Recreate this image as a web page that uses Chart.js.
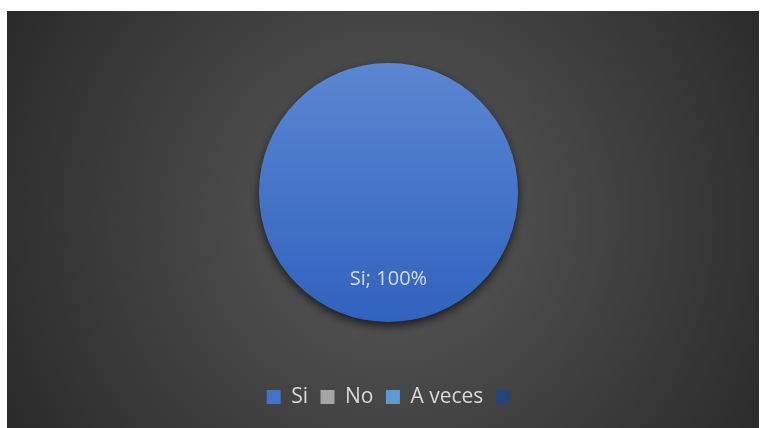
<!DOCTYPE html>
<html>
<head>
<meta charset="utf-8">
<script src="https://cdn.jsdelivr.net/npm/chart.js@4"></script>
<style>
  html, body { margin: 0; padding: 0; background: #ffffff; width: 763px; height: 428px; overflow: hidden; }
  #wrap { position: absolute; left: 7px; top: 11px; width: 752px; height: 417px; }
</style>
</head>
<body>
<div id="wrap"><canvas id="c" width="752" height="417"></canvas></div>
<script>
const categories = ['Si', 'No', 'A veces', ''];
const values = [100, 0, 0, 0];
const sliceColors = ['#4472C4', '#A5A5A5', '#5B9BD5', '#264478'];

const FONT = "'Open Sans', 'Noto Sans', sans-serif";
const PIE_R = 129.5;
const LEGEND_SHIFT = 5;

const bgPlugin = {
  id: 'bg',
  beforeDraw(chart) {
    const {ctx, width, height} = chart;
    const cx = width * 0.51, cy = height * 0.5;
    const g = ctx.createRadialGradient(cx, cy, 0, cx, cy, Math.hypot(width, height) * 0.55);
    g.addColorStop(0, '#5a5a5a');
    g.addColorStop(1, '#262626');
    ctx.save();
    ctx.fillStyle = g;
    ctx.fillRect(0, 0, width, height);
    ctx.restore();
  }
};

const legendShiftPlugin = {
  id: 'legendShift',
  afterLayout(chart) {
    if (chart.legend) {
      chart.legend.left += LEGEND_SHIFT;
      chart.legend.right += LEGEND_SHIFT;
    }
  }
};

const shadowPlugin = {
  id: 'shadow',
  beforeDatasetsDraw(chart) {
    const ctx = chart.ctx;
    ctx.save();
    ctx.shadowColor = 'rgba(0,0,0,0.65)';
    ctx.shadowBlur = 10;
    ctx.shadowOffsetY = 4;
  },
  afterDatasetsDraw(chart) {
    chart.ctx.restore();
  }
};

const labelPlugin = {
  id: 'sliceLabels',
  afterDatasetsDraw(chart) {
    const ctx = chart.ctx;
    const meta = chart.getDatasetMeta(0);
    const data = chart.data.datasets[0].data;
    const total = data.reduce((a, b) => a + b, 0);
    meta.data.forEach((arc, i) => {
      const v = data[i];
      if (!v) return;
      const p = arc.getProps(['x', 'y', 'startAngle', 'endAngle', 'outerRadius'], true);
      const mid = (p.startAngle + p.endAngle) / 2;
      const r = p.outerRadius * 0.667;
      const x = p.x + Math.cos(mid) * r;
      const y = p.y + Math.sin(mid) * r;
      ctx.save();
      ctx.font = '20px ' + FONT;
      ctx.fillStyle = '#d9d9d9';
      ctx.textAlign = 'center';
      ctx.textBaseline = 'middle';
      ctx.fillText(categories[i] + '; ' + Math.round(v / total * 100) + '%', x, y);
      ctx.restore();
    });
  }
};

new Chart(document.getElementById('c'), {
  type: 'pie',
  data: {
    labels: categories,
    datasets: [{
      data: values,
      borderWidth: 0,
      radius: PIE_R,
      backgroundColor(ctx) {
        const chart = ctx.chart;
        const i = ctx.dataIndex;
        const ca = chart.chartArea;
        if (i !== 0 || !ca || !isFinite(ca.top) || !isFinite(ca.bottom)) return sliceColors[i];
        const cy = (ca.top + ca.bottom) / 2;
        const g = chart.ctx.createLinearGradient(0, cy - PIE_R, 0, cy + PIE_R);
        g.addColorStop(0, '#5b86d2');
        g.addColorStop(1, '#3063bf');
        return g;
      }
    }]
  },
  options: {
    responsive: false,
    animation: false,
    devicePixelRatio: 1,
    layout: { padding: { top: 0, bottom: 10.5, left: 11, right: 0 } },
    plugins: {
      tooltip: { enabled: false },
      legend: {
        position: 'bottom',
        labels: {
          color: '#d9d9d9',
          font: { family: FONT, size: 21 },
          boxWidth: 14,
          boxHeight: 14,
          padding: 12.5,
          generateLabels(chart) {
            const items = Chart.overrides.pie.plugins.legend.labels.generateLabels(chart);
            items.forEach((it, i) => { it.fillStyle = sliceColors[i]; it.strokeStyle = sliceColors[i]; it.lineWidth = 0; it.hidden = false; });
            return items;
          }
        }
      }
    }
  },
  plugins: [bgPlugin, legendShiftPlugin, shadowPlugin, labelPlugin]
});
</script>
</body>
</html>
